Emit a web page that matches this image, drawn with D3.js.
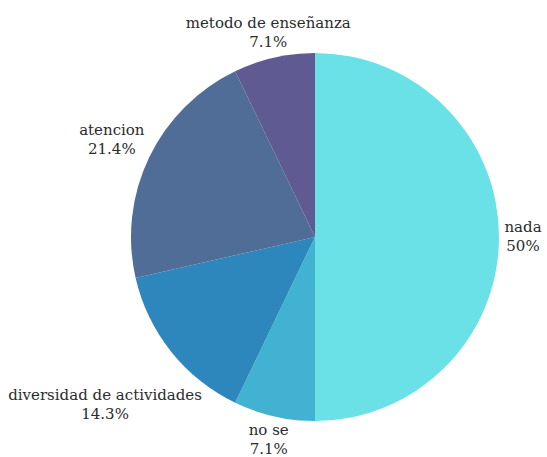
<!DOCTYPE html>
<html>
<head>
<meta charset="utf-8">
<script src="https://cdn.jsdelivr.net/npm/d3@7"></script>
<style>
  body { margin: 0; background: #fff; }
</style>
</head>
<body>
<div id="chart-area"></div>
<script>
// pie data
let categories = ["nada", "no se", "diversidad de actividades", "atencion", "metodo de enseñanza"];
let values = [7, 1, 2, 3, 1];
let pctLabels = ["50%", "7.1%", "14.3%", "21.4%", "7.1%"];
let colors = ["#69e1e6", "#41b2d2", "#2e87bc", "#4f6d96", "#5f5a91"];

let width = 547, height = 457,
    cx = 315, cy = 237,
    radius = 184;

let svg = d3.select("#chart-area").append("svg")
    .attr("width", width)
    .attr("height", height);

let g = svg.append("g")
    .attr("transform", "translate(" + cx + "," + cy + ")");

let data = categories.map((c, i) => ({name: c, value: values[i], pct: pctLabels[i], color: colors[i]}));

let pie = d3.pie()
    .sort(null)
    .value(d => d.value);

let arc = d3.arc()
    .innerRadius(0)
    .outerRadius(radius);

let arcs = pie(data);

g.selectAll(".slice")
    .data(arcs)
    .enter()
    .append("path")
    .attr("class", "slice")
    .attr("d", arc)
    .attr("fill", d => d.data.color);

// labels: two centred lines, box pushed out along the mid angle
let fs = 15, lineH = 19, gap = 5;

let labels = g.selectAll(".label")
    .data(arcs)
    .enter()
    .append("text")
    .attr("class", "label")
    .attr("font-family", "'DejaVu Serif', 'Liberation Serif', serif")
    .attr("font-size", fs)
    .attr("fill", "#2b2b2b")
    .attr("text-anchor", "middle");

labels.append("tspan").attr("x", 0).attr("y", 0).text(d => d.data.name);
labels.append("tspan").attr("x", 0).attr("y", lineH).text(d => d.data.pct);

labels.each(function(d){
    let bb = this.getBBox();
    let a = (d.startAngle + d.endAngle) / 2;
    let s = Math.sin(a), c = Math.cos(a);
    // visible box: cap height of first line down to last baseline
    let top = -0.72 * fs, bot = lineH + 1;
    let hw = bb.width / 2, midY = (top + bot) / 2, hh = (bot - top) / 2;
    let bx = 0, by = 0;
    for (let dist = radius; dist < radius + 200; dist += 0.5) {
        bx = s * dist; by = -c * dist;
        let px = Math.max(bx - hw, Math.min(0, bx + hw));
        let py = Math.max(by - hh, Math.min(0, by + hh));
        if (Math.hypot(px, py) >= radius + gap) break;
    }
    d3.select(this).attr("transform", "translate(" + bx + "," + (by - midY) + ")");
});
</script>
</body>
</html>
